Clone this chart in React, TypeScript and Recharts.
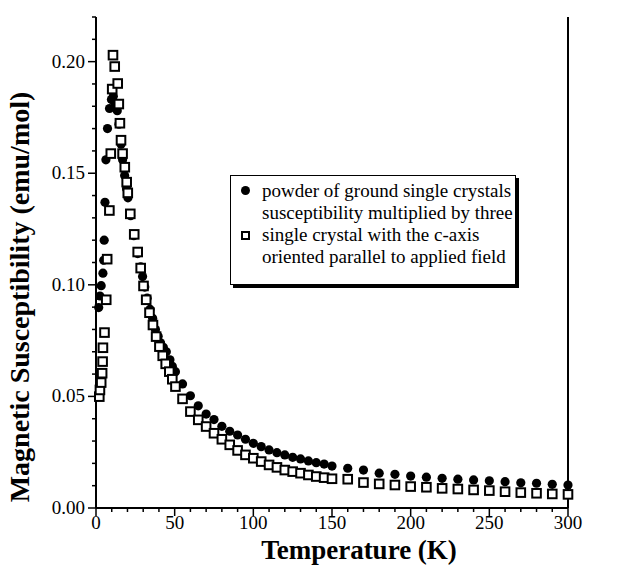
import React from "react";
import { ScatterChart, Scatter, XAxis, YAxis, ReferenceLine } from "recharts";

// powder of ground single crystals (x3)
const powderT = [1.7, 2.5, 3.3, 4.4, 4.9, 5.2, 5.7, 6.3, 7.3, 8.6, 9.8, 11, 12.2, 13.5, 14.6, 15.9, 16.9, 18.2, 19.4, 20.3, 22, 24, 26.5, 28.4, 29.6, 31, 32.5, 34.3, 36, 37.8, 39.5, 41, 42.8, 44.7, 47, 48.5, 50.5, 55, 60, 65, 70, 75, 80, 85, 90, 95, 100, 105, 110, 115, 120, 125, 130, 135, 140, 145, 150, 160, 170, 180, 190, 200, 210, 220, 230, 240, 250, 260, 270, 280, 290, 300];
const powderChi = [0.0898, 0.095, 0.0996, 0.1052, 0.111, 0.12, 0.137, 0.156, 0.17, 0.179, 0.183, 0.1845, 0.181, 0.178, 0.172, 0.163, 0.156, 0.149, 0.143, 0.139, 0.131, 0.122, 0.114, 0.108, 0.1037, 0.099, 0.094, 0.089, 0.085, 0.08, 0.077, 0.074, 0.072, 0.07, 0.0664, 0.0635, 0.0611, 0.0556, 0.0503, 0.0458, 0.0421, 0.0396, 0.0366, 0.0344, 0.0327, 0.0308, 0.029, 0.0275, 0.026, 0.0248, 0.0238, 0.0227, 0.022, 0.0211, 0.0203, 0.0197, 0.0188, 0.0178, 0.017, 0.0156, 0.0151, 0.0143, 0.0138, 0.0133, 0.0129, 0.0126, 0.0122, 0.0118, 0.0113, 0.0111, 0.0106, 0.0103];

// single crystal, c-axis parallel to field
const crystalT = [2.1, 2.5, 3.3, 3.9, 4.2, 4.4, 5.4, 6.5, 7.1, 8.5, 9.4, 10.3, 10.8, 11.9, 13.8, 14.5, 15.2, 15.9, 16.9, 18.3, 19.5, 20.2, 21.8, 24.3, 26.5, 28.4, 30.2, 31.9, 34, 36.2, 38.2, 40.3, 42.4, 44.3, 46.6, 48.5, 50.5, 55, 60, 65, 70, 75, 80, 85, 90, 95, 100, 105, 110, 115, 120, 125, 130, 135, 140, 145, 150, 160, 170, 180, 190, 200, 210, 220, 230, 240, 250, 260, 270, 280, 290, 300];
const crystalChi = [0.0499, 0.0529, 0.0562, 0.0604, 0.0656, 0.0718, 0.0786, 0.0933, 0.1115, 0.1333, 0.1588, 0.1877, 0.2029, 0.1978, 0.1902, 0.181, 0.1724, 0.1648, 0.1588, 0.1527, 0.146, 0.1412, 0.1318, 0.1226, 0.1147, 0.1075, 0.0995, 0.0933, 0.0875, 0.082, 0.0768, 0.0723, 0.0682, 0.0646, 0.0611, 0.0577, 0.0544, 0.0489, 0.0432, 0.0395, 0.0365, 0.0335, 0.0308, 0.0283, 0.0258, 0.0238, 0.0223, 0.0208, 0.0193, 0.0182, 0.017, 0.0163, 0.0156, 0.0148, 0.0141, 0.0136, 0.0131, 0.0129, 0.0114, 0.0108, 0.0103, 0.0096, 0.0093, 0.0088, 0.0085, 0.0081, 0.0078, 0.0073, 0.0069, 0.0066, 0.0063, 0.0061];

const xTicks = Array.from({ length: 31 }, (_, i) => i * 10);
const yTicks = Array.from({ length: 23 }, (_, i) => +(i * 0.01).toFixed(2));

const powder = powderT.map((t, i) => ({ t, chi: powderChi[i] }));
const crystal = crystalT.map((t, i) => ({ t, chi: crystalChi[i] }));

const FONT = "'Liberation Serif', 'Times New Roman', serif";

const XTick = (props: any) => {
  const { x, y, payload } = props;
  const major = payload.value % 50 === 0;
  return (
    <g>
      <line x1={x} x2={x} y1={y} y2={y + (major ? 8 : 4)} stroke="#000" strokeWidth={1.5} />
      {major && (
        <text x={x} y={y + 21} textAnchor="middle" fontSize={19} fontFamily={FONT} fill="#000">
          {payload.value}
        </text>
      )}
    </g>
  );
};

const YTick = (props: any) => {
  const { x, y, payload } = props;
  const major = Math.round(payload.value * 100) % 5 === 0;
  return (
    <g>
      <line x1={x} x2={x - (major ? 8 : 4)} y1={y} y2={y} stroke="#000" strokeWidth={1.5} />
      {major && (
        <text x={x - 11} y={y + 6} textAnchor="end" fontSize={19} fontFamily={FONT} fill="#000">
          {payload.value.toFixed(2)}
        </text>
      )}
    </g>
  );
};

const Dot = (p: any) => <circle cx={p.cx} cy={p.cy} r={4.6} fill="#000" />;
const Box = (p: any) => (
  <rect x={p.cx - 4.3} y={p.cy - 4.3} width={8.6} height={8.6} fill="#fff" stroke="#000" strokeWidth={2} />
);

export default function App() {
  return (
    <div style={{ position: "absolute", left: 0, top: 0, width: 634, height: 567, background: "#fff" }}>
      <ScatterChart width={634} height={567} margin={{ top: 17, right: 66, bottom: 0, left: 0 }}>
        <XAxis
          type="number"
          dataKey="t"
          domain={[0, 300]}
          ticks={xTicks}
          interval={0}
          height={59}
          tickSize={0}
          tickMargin={0}
          tick={<XTick />}
          axisLine={{ stroke: "#000", strokeWidth: 2 }}
          label={{
            content: () => (
              <text x={359} y={559} textAnchor="middle" fontSize={27} fontWeight="bold" fontFamily={FONT} fill="#000">
                Temperature (K)
              </text>
            ),
          }}
        />
        <YAxis
          type="number"
          dataKey="chi"
          domain={[0, 0.22]}
          ticks={yTicks}
          interval={0}
          width={96}
          tickSize={0}
          tickMargin={0}
          tick={<YTick />}
          axisLine={{ stroke: "#000", strokeWidth: 2 }}
          label={{
            content: () => (
              <text
                transform="translate(29,297) rotate(-90)"
                textAnchor="middle"
                fontSize={28}
                fontWeight="bold"
                fontFamily={FONT}
                fill="#000"
              >
                Magnetic Susceptibility (emu/mol)
              </text>
            ),
          }}
        />
        <ReferenceLine x={300} stroke="#000" strokeWidth={2} ifOverflow="extendDomain" />
        <Scatter data={powder} shape={<Dot />} isAnimationActive={false} />
        <Scatter data={crystal} shape={<Box />} isAnimationActive={false} />
      </ScatterChart>
      <div
        style={{
          position: "absolute",
          left: 230,
          top: 175,
          width: 286,
          height: 110,
          border: "1.5px solid #000",
          boxShadow: "3px 3px 0 #000",
          boxSizing: "border-box",
          fontFamily: FONT,
          fontSize: 19,
          lineHeight: "22px",
          paddingTop: 4,
          paddingLeft: 31,
          color: "#000",
          whiteSpace: "nowrap",
        }}
      >
        <div style={{ position: "relative" }}>
          <span style={{ position: "absolute", left: -21, top: 6, width: 9, height: 9, borderRadius: 5, background: "#000" }} />
          powder of ground single crystals
          <br />
          susceptibility multiplied by three
        </div>
        <div style={{ position: "relative" }}>
          <span
            style={{
              position: "absolute",
              left: -21,
              top: 7,
              width: 9,
              height: 9,
              border: "2px solid #000",
              boxSizing: "border-box",
              background: "#fff",
            }}
          />
          single crystal with the c-axis
          <br />
          oriented parallel to applied field
        </div>
      </div>
    </div>
  );
}
